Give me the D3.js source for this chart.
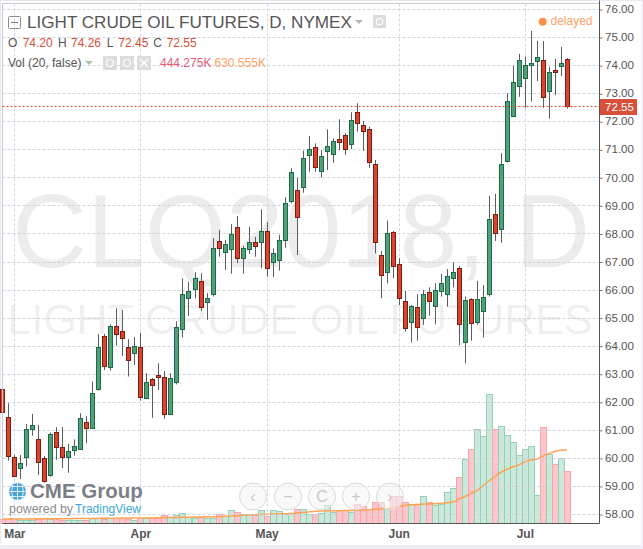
<!DOCTYPE html>
<html><head><meta charset="utf-8">
<script src="https://cdn.jsdelivr.net/npm/d3@7/dist/d3.min.js"></script>
<style>html,body{margin:0;padding:0;background:#fff}svg{display:block}text{font-family:"Liberation Sans",Arial,sans-serif}</style>
</head><body><svg id="c" width="643" height="549"></svg>
<script>
const firstBar=-2;
const priceTicks=[58,59,60,61,62,63,64,65,66,67,68,69,70,71,72,73,74,75,76];
const monthBars=[0,21,42,64,85];
const monthLabels=["Mar","Apr","May","Jun","Jul"];
const highs=[62.49,61.95,60.10,60.10,61.21,61.57,61.17,60.07,60.90,61.09,61.10,60.50,60.66,61.59,61.49,62.72,64.42,64.42,64.76,65.33,65.27,64.23,64.30,64.46,63.02,62.85,63.37,63.09,63.02,64.87,66.40,66.28,66.62,66.58,65.87,67.83,68.12,67.77,68.33,68.62,67.56,68.24,67.88,68.86,68.40,67.47,67.95,69.29,70.32,69.98,70.95,71.47,71.21,70.97,71.71,71.39,72.07,71.57,72.32,72.64,72.01,71.81,70.62,67.38,68.46,68.09,67.12,65.95,65.45,65.83,65.99,66.08,66.22,66.56,66.73,66.97,66.84,65.75,65.69,66.31,66.16,69.34,69.41,70.86,73.00,73.97,74.40,74.30,75.22,74.86,74.86,73.94,74.22,74.65,74.26];
const opens=[62.45,61.45,60.02,59.63,60.02,61.04,60.66,59.99,59.40,60.91,60.38,60.04,60.29,60.31,61.27,61.06,62.46,64.33,63.25,64.69,64.51,63.94,63.75,63.94,62.13,62.80,62.96,62.87,61.56,62.70,64.61,65.71,66.01,66.30,65.57,65.83,67.72,67.35,67.43,68.22,67.14,67.44,67.69,67.69,68.08,66.97,67.04,67.76,69.17,69.54,69.65,70.81,71.07,70.24,70.95,70.84,71.36,71.50,71.18,72.32,71.86,71.71,70.47,67.22,66.64,68.04,66.90,65.58,64.86,65.37,64.98,65.90,65.43,65.96,65.85,66.42,66.76,64.14,65.65,64.86,65.25,65.85,68.68,68.15,70.58,72.20,73.27,73.55,74.01,74.16,74.17,73.09,73.83,73.98,74.20];
const closes=[61.65,60.08,59.37,59.81,61.02,61.16,59.87,59.19,60.85,60.40,60.02,60.24,60.41,61.41,61.08,62.30,63.94,63.29,64.69,64.43,64.29,63.50,63.99,62.18,62.70,62.61,62.90,61.58,62.84,64.66,65.83,65.94,66.40,65.39,65.69,67.47,67.47,67.61,67.97,67.11,67.47,67.69,67.56,68.10,66.76,67.29,67.76,69.10,70.20,68.60,70.68,71.00,70.38,70.75,71.11,71.28,71.27,71.02,72.03,71.95,71.64,70.54,67.71,66.53,68.01,66.85,65.71,64.62,65.40,64.66,65.83,65.60,65.97,66.22,66.47,66.62,64.78,65.62,64.82,65.65,65.73,68.50,68.01,70.48,72.72,73.40,74.17,73.99,74.06,74.28,72.87,73.74,73.77,74.06,72.55];
const lows=[61.64,59.90,59.32,59.25,59.69,60.79,59.39,59.12,59.33,59.93,59.64,59.47,60.08,60.28,60.52,61.03,62.40,63.13,63.11,64.00,63.63,62.90,63.31,62.04,62.09,61.43,62.42,61.40,61.53,62.62,64.29,65.06,65.69,65.24,64.92,65.75,67.17,66.70,66.57,66.94,66.57,67.27,67.17,66.76,66.46,66.44,66.67,67.49,69.08,67.23,69.45,70.20,70.20,69.99,70.26,70.52,70.97,70.80,71.01,71.63,70.94,70.34,67.29,65.69,66.22,66.40,65.45,64.50,64.11,64.18,64.74,65.07,64.76,65.75,65.39,66.08,64.02,63.37,64.18,64.74,64.29,65.75,67.73,67.67,70.52,72.14,72.87,72.48,72.70,73.43,72.48,72.09,72.93,73.61,72.45];
const volumes=[34,34,46,23,23,23,34,43,34,32,29,23,23,23,23,40,46,37,40,43,43,37,29,40,46,46,46,66,54,66,89,52,46,52,46,46,75,57,115,92,80,75,69,109,57,115,106,75,89,123,123,80,80,89,158,95,109,109,92,166,146,123,183,183,123,235,235,183,166,166,229,183,158,163,264,298,393,550,634,806,748,1107,806,832,754,694,582,636,660,241,823,593,507,556,444];
const volumeMA=[34,34,34,35,35,35,36,36,36,37,37,37,38,38,39,39,40,40,41,41,42,42,43,43,44,44,45,46,47,48,49,50,51,52,53,54,55,57,60,63,66,69,72,73,75,77,78,80,81,85,90,95,100,103,104,105,106,107,108,109,111,114,118,121,123,133,143,151,158,160,162,164,166,169,175,180,206,226,255,278,318,361,398,436,462,484,499,527,542,550,576,599,615,625,630.555];

const bars=d3.range(opens.length);
const svg=d3.select("#c");
const x=d3.scaleLinear().domain([firstBar,92]).range([2.3,566.9]);
const xi=i=>x(i+firstBar);
const y=d3.scaleLinear().domain([58,76]).range([514,9]);
const v=d3.scaleLinear().domain([0,1100]).range([523,395.1]);
const snap=a=>Math.round(a)+.5;
const plotL=2.5,plotR=599.5,plotT=3.5,plotB=523.5;

// outer frame and plot border
svg.append("rect").attr("x",.5).attr("y",.5).attr("width",642).attr("height",546).attr("fill","none").attr("stroke","#d6d0e6").attr("stroke-width",1).attr("stroke-dasharray","1 1");
svg.append("rect").attr("x",0).attr("y",545).attr("width",643).attr("height",4).attr("fill","#efecf6");

// watermark
svg.append("text").attr("x",301).attr("y",267).attr("text-anchor","middle").attr("font-size",104).attr("fill","#000").attr("fill-opacity",.075).text("CLQ2018, D");
svg.append("text").attr("x",300).attr("y",334).attr("text-anchor","middle").attr("font-size",43).attr("fill","#000").attr("fill-opacity",.075).text("LIGHT CRUDE OIL FUTURES");

// volume
const up=i=>closes[i]>=opens[i];
svg.append("g").selectAll("rect").data(bars).join("rect")
 .attr("x",i=>Math.round(xi(i))-2.5).attr("width",6)
 .attr("y",i=>Math.round(v(volumes[i]))+.5).attr("height",i=>plotB-Math.round(v(volumes[i]))-.5)
 .attr("fill",i=>up(i)?"#cbe8da":"#fcc6cb").attr("stroke",i=>up(i)?"#93d2b8":"#f9a5ae").attr("stroke-width",1);
svg.append("path").datum(bars).attr("fill","none").attr("stroke","#ffa352").attr("stroke-width",1.5)
 .attr("d",d3.line().x(i=>xi(i)).y(i=>v(volumeMA[i])).curve(d3.curveMonotoneX));

// grid, over the faint volume bars as in the reference
const grid=svg.append("g").attr("stroke-dasharray","3 2").attr("stroke-width",1).attr("fill","none");
grid.selectAll("line.h").data(priceTicks).join("line").attr("x1",plotL).attr("x2",plotR).attr("y1",d=>snap(y(d))).attr("y2",d=>snap(y(d))).attr("stroke","#cfcdd6").attr("stroke-opacity",.9);
grid.selectAll("line.v").data(monthBars).join("line").attr("y1",plotT).attr("y2",plotB).attr("x1",d=>snap(x(d))).attr("x2",d=>snap(x(d))).attr("stroke","#d2d4e2").attr("stroke-opacity",.9);

// candles
const cg=svg.append("g");
cg.selectAll("line").data(bars).join("line")
 .attr("x1",i=>snap(xi(i))).attr("x2",i=>snap(xi(i))).attr("y1",i=>y(highs[i])).attr("y2",i=>y(lows[i]))
 .attr("stroke","#5a5e5c").attr("stroke-width",1);
cg.selectAll("rect").data(bars).join("rect")
 .attr("x",i=>Math.round(xi(i))-1.5).attr("width",4)
 .attr("y",i=>Math.round(y(Math.max(opens[i],closes[i])))+.5)
 .attr("height",i=>Math.max(1,Math.round(y(Math.min(opens[i],closes[i])))-Math.round(y(Math.max(opens[i],closes[i])))))
 .attr("fill",i=>up(i)?"#539f79":"#d8442f").attr("stroke",i=>up(i)?"#1c6b47":"#7e1c12").attr("stroke-width",1);

// borders
svg.append("path").attr("d",`M${plotL} ${plotB}V${plotT}H${plotR}`).attr("fill","none").attr("stroke","#c9c9cf");

// axes
const yAxis=d3.axisRight(y).tickValues(priceTicks).tickFormat(d3.format(".2f")).tickSize(3).tickPadding(2.5);
const gy=svg.append("g").attr("transform",`translate(${plotR},0)`).call(yAxis);
gy.select(".domain").attr("d",`M0 ${plotT-3}V${plotB}`).attr("stroke","#555");
gy.selectAll("line").attr("stroke","#777").attr("y1",.5).attr("y2",.5);
gy.selectAll("text").attr("font-size",11.6).attr("fill","#555").attr("font-family","Liberation Sans");
const xAxis=d3.axisBottom(x).tickValues(monthBars).tickFormat((d,k)=>monthLabels[k]).tickSize(0).tickPadding(6);
const gx=svg.append("g").attr("transform",`translate(0,${plotB})`).call(xAxis);
gx.select(".domain").attr("d",`M${plotL} 0H${plotR}`).attr("stroke","#555");
gx.selectAll("text").attr("font-size",12).attr("font-weight","bold").attr("fill","#555").attr("font-family","Liberation Sans");

// last price
const last=closes[closes.length-1];
svg.append("line").attr("x1",plotL).attr("x2",plotR).attr("y1",snap(y(last))).attr("y2",snap(y(last))).attr("stroke","#d9482e").attr("stroke-dasharray","2 2");
svg.append("rect").attr("x",600).attr("y",99).attr("width",37).attr("height",16).attr("fill","#d9503a");
svg.append("text").attr("x",605).attr("y",111).attr("font-size",11.6).attr("fill","#fff").text(d3.format(".2f")(last));

// title
svg.append("rect").attr("x",8.5).attr("y",16.5).attr("width",12).attr("height",12).attr("rx",1).attr("fill","none").attr("stroke","#8a8a8a");
svg.append("line").attr("x1",11).attr("x2",18).attr("y1",22.5).attr("y2",22.5).attr("stroke","#777");
svg.append("text").attr("x",27).attr("y",28).attr("font-size",17.1).attr("fill","#555").text("LIGHT CRUDE OIL FUTURES, D, NYMEX");
const tri=(cx,cy)=>svg.append("path").attr("d",`M${cx-4} ${cy-2}h8l-4 4z`).attr("fill","#b5bcb8");
tri(359,22); tri(89,63);
const gear=(a,b,s)=>{svg.append("rect").attr("x",a).attr("y",b).attr("width",s).attr("height",s).attr("fill","#dcdcdc");
 svg.append("circle").attr("cx",a+s/2).attr("cy",b+s/2).attr("r",s/4).attr("fill","none").attr("stroke","#fff").attr("stroke-width",1.2);};
gear(373,15,13); gear(103,56,14); gear(120,56,14);
svg.append("rect").attr("x",137).attr("y",56).attr("width",14).attr("height",14).attr("fill","#dcdcdc");
svg.append("path").attr("d","M140 59l8 8M148 59l-8 8").attr("stroke","#fff").attr("stroke-width",1.2);

// OHLC row
const dark="#555",red="#d9503a";
[["O",8,dark],[d3.format(".2f")(opens[94]),22.7,red],["H",58,dark],[d3.format(".2f")(highs[94]),71,red],["L",106.7,dark],[d3.format(".2f")(lows[94]),118.3,red],["C",153.3,dark],[d3.format(".2f")(closes[94]),166.7,red]]
 .forEach(([t,a,c])=>svg.append("text").attr("x",a).attr("y",47).attr("font-size",12).attr("fill",c).text(t));
svg.append("text").attr("x",8).attr("y",67).attr("font-size",12).attr("fill",dark).text("Vol (20, false)");
svg.append("text").attr("x",160).attr("y",67).attr("font-size",12).attr("fill","#ea5a78").text("444.275K");
svg.append("text").attr("x",214.5).attr("y",67).attr("font-size",12).attr("fill","#ffa366").text("630.555K");

// delayed
svg.append("circle").attr("cx",542.7).attr("cy",21.7).attr("r",4).attr("fill","#ff8f45");
svg.append("text").attr("x",550.5).attr("y",25).attr("font-size",12).attr("fill","#ffa366").text("delayed");

// logo
const logo=svg.append("g");
logo.append("circle").attr("cx",17.5).attr("cy",491.5).attr("r",8.5).attr("fill","#4aa3d8");
logo.append("path").attr("d","M9 491.5h17M17.5 483v17M11 486.5h13M11 496.5h13M13 485q-3 6.500 0 13M22 485q3 6.500 0 13").attr("fill","none").attr("stroke","#fff").attr("stroke-width",.8);
logo.append("text").attr("x",30).attr("y",498).attr("font-size",20.5).attr("font-weight","bold").attr("fill","#7b7f85").text("CME Group");
logo.append("text").attr("x",9).attr("y",513).attr("font-size",12.4).attr("fill","#8a8a8a").text("powered by");
logo.append("text").attr("x",75).attr("y",513).attr("font-size",12).attr("fill","#3ea6d8").text("TradingView");

// nav buttons
const navX=[253,288,322,356,390],navT=["‹","−","C","+","›"];
navX.forEach((a,k)=>{svg.append("circle").attr("cx",a).attr("cy",496.5).attr("r",13.5).attr("fill","#f4f4f4").attr("fill-opacity",.55).attr("stroke","#d8d8d8");
 svg.append("text").attr("x",a).attr("y",502).attr("text-anchor","middle").attr("font-size",16).attr("fill","#c9c9c9").text(navT[k]);});
</script></body></html>
